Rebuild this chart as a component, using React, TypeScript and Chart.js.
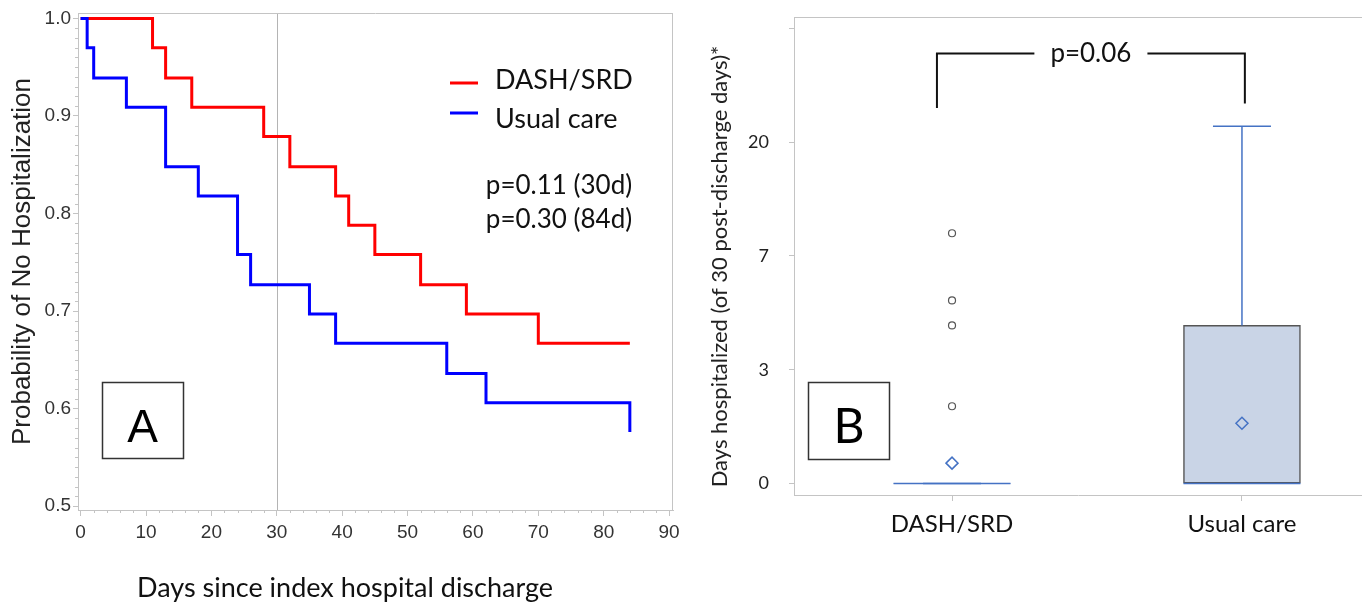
import React, { useEffect, useRef } from 'react';
import { Chart, registerables } from 'chart.js';

Chart.register(...registerables);

// ---------------- Panel A: Kaplan-Meier data ----------------
const seriesNames = ['DASH/SRD', 'Usual care'];
const dashTimes = [0, 11, 13, 17, 28, 32, 39, 41, 45, 52, 59, 70, 84];
const dashSurvival = [1.0, 0.970, 0.939, 0.909, 0.879, 0.848, 0.818, 0.788, 0.758, 0.727, 0.697, 0.667, 0.667];
const usualTimes = [0, 1, 2, 7, 13, 18, 24, 26, 35, 39, 56, 62, 84];
const usualSurvival = [1.0, 0.970, 0.939, 0.909, 0.848, 0.818, 0.758, 0.727, 0.697, 0.667, 0.636, 0.606, 0.576];
const xTicksA = [0, 10, 20, 30, 40, 50, 60, 70, 80, 90];
const yTicksA = [0.5, 0.6, 0.7, 0.8, 0.9, 1.0];
const refDay = 30;
const pTextsA = ['p=0.11 (30d)', 'p=0.30 (84d)'];
const panelLabelA = 'A';
const xTitleA = 'Days since index hospital discharge';
const yTitleA = 'Probability of No Hospitalization';

// ---------------- Panel B: box plot data (axis units) ----------------
const groups = ['DASH/SRD', 'Usual care'];
const yTickPositionsB = [0, 1, 2, 3, 4];
const yTickLabelsB = ['0', '3', '7', '20', ''];
const q1B = [0, 0];
const medianB = [0, 0];
const q3B = [0, 1.39];
const whiskerHighB = [0, 3.14];
const meanB = [0.18, 0.53];
const outliersB = [[2.2, 1.61, 1.39, 0.68], []];
const pTextB = 'p=0.06';
const panelLabelB = 'B';
const yTitleB = 'Days hospitalized (of 30 post-discharge days)*';

// ---------------- styles ----------------
const AXIS = '#c4c4c4';
const FONT_A = "'Liberation Sans', Arial, sans-serif";
const FONT_C = "Lato, 'Open Sans', sans-serif";
const RED = '#ff0000';
const BLUE = '#0000ff';
const BOXBLUE = '#4472c4';

Chart.defaults.font.family = FONT_C;

function fixScale(size: number) {
  return (s: any) => {
    if (s.isHorizontal()) s.height = size;
    else s.width = size;
    s.paddingLeft = 0;
    s.paddingRight = 0;
    s.paddingTop = 0;
    s.paddingBottom = 0;
  };
}

function line(ctx: CanvasRenderingContext2D, x1: number, y1: number, x2: number, y2: number) {
  ctx.beginPath();
  ctx.moveTo(x1, y1);
  ctx.lineTo(x2, y2);
  ctx.stroke();
}

const panelAPlugin = {
  id: 'panelA',
  beforeDatasetsDraw(chart: any) {
    const { ctx, chartArea: ca, scales } = chart;
    const px = Math.round(scales.x.getPixelForValue(refDay)) + 0.5;
    ctx.save();
    ctx.strokeStyle = '#b4b4b4';
    ctx.lineWidth = 1;
    line(ctx, px, ca.top, px, ca.bottom);
    ctx.restore();
  },
  afterDraw(chart: any) {
    const { ctx, chartArea: ca, scales } = chart;
    const x = scales.x;
    const y = scales.y;
    ctx.save();
    // frame (top/right)
    ctx.strokeStyle = AXIS;
    ctx.lineWidth = 1;
    const t = Math.round(ca.top) + 0.5;
    const r = Math.round(ca.right) - 0.5;
    line(ctx, ca.left, t, ca.right, t);
    line(ctx, r, ca.top, r, ca.bottom);
    // minor ticks
    for (let v = 0; v <= 90; v += 2) {
      if (v % 10 === 0) continue;
      const p = Math.round(x.getPixelForValue(v)) + 0.5;
      line(ctx, p, ca.bottom, p, ca.bottom + 3);
    }
    for (let k = 50; k <= 100; k++) {
      if (k % 10 === 0) continue;
      const p = Math.round(y.getPixelForValue(k / 100)) + 0.5;
      line(ctx, ca.left - 3, p, ca.left, p);
    }
    // legend
    const ds = chart.data.datasets;
    const legendRows = [
      { lineY: 83, baseY: 89 },
      { lineY: 113, baseY: 128 },
    ];
    ds.forEach((d: any, i: number) => {
      const row = legendRows[i];
      ctx.strokeStyle = d.borderColor;
      ctx.lineWidth = 3;
      line(ctx, 450, row.lineY, 478, row.lineY);
      ctx.fillStyle = '#111';
      ctx.font = `27px ${FONT_C}`;
      ctx.textAlign = 'left';
      ctx.textBaseline = 'alphabetic';
      ctx.fillText(d.label, 495, row.baseY);
    });
    // p-values
    ctx.font = `26px ${FONT_C}`;
    ctx.textAlign = 'center';
    ctx.fillText(pTextsA[0], 559, 194);
    ctx.fillText(pTextsA[1], 559, 228);
    // panel label box
    ctx.strokeStyle = '#333';
    ctx.lineWidth = 1.5;
    ctx.strokeRect(102.5, 382.5, 81, 76);
    ctx.fillStyle = '#000';
    ctx.font = `46px ${FONT_A}`;
    ctx.textAlign = 'center';
    ctx.fillText(panelLabelA, 142.5, 442);
    // x title
    ctx.fillStyle = '#111';
    ctx.font = `27px ${FONT_C}`;
    ctx.fillText(xTitleA, chart.width / 2, 597);
    ctx.restore();
  },
};

const bracketB = { x1: 0.948, x2: 2.01, top: 3.78, leftEnd: 3.3, rightEnd: 3.34 };

const panelBPlugin = {
  id: 'panelB',
  afterDraw(chart: any) {
    const { ctx, chartArea: ca, scales } = chart;
    const x = scales.x;
    const y = scales.y;
    ctx.save();
    ctx.strokeStyle = AXIS;
    ctx.lineWidth = 1;
    const t = Math.round(ca.top) + 0.5;
    line(ctx, ca.left, t, ca.right, t);
    // bracket
    const xl = x.getPixelForValue(bracketB.x1);
    const xr = x.getPixelForValue(bracketB.x2);
    const yt = y.getPixelForValue(bracketB.top);
    const yl = y.getPixelForValue(bracketB.leftEnd);
    const yr = y.getPixelForValue(bracketB.rightEnd);
    ctx.font = `26px ${FONT_C}`;
    const tw = ctx.measureText(pTextB).width;
    const cx = (xl + xr) / 2;
    const gap = 16;
    ctx.strokeStyle = '#111';
    ctx.lineWidth = 2;
    ctx.beginPath();
    ctx.moveTo(xl, yl);
    ctx.lineTo(xl, yt);
    ctx.lineTo(cx - tw / 2 - gap, yt);
    ctx.moveTo(cx + tw / 2 + gap, yt);
    ctx.lineTo(xr, yt);
    ctx.lineTo(xr, yr);
    ctx.stroke();
    ctx.fillStyle = '#111';
    ctx.textAlign = 'center';
    ctx.textBaseline = 'alphabetic';
    ctx.fillText(pTextB, cx, yt + 9);
    // panel label
    ctx.strokeStyle = '#333';
    ctx.lineWidth = 1.5;
    ctx.strokeRect(118.5, 382.5, 81, 77);
    ctx.fillStyle = '#000';
    ctx.font = `48px ${FONT_C}`;
    ctx.fillText(panelLabelB, 159, 443);
    // y title
    ctx.save();
    ctx.translate(30, 266.5);
    ctx.rotate(-Math.PI / 2);
    ctx.fillStyle = '#222';
    ctx.font = `22px ${FONT_C}`;
    ctx.textAlign = 'center';
    ctx.textBaseline = 'middle';
    ctx.fillText(yTitleB, 0, 0);
    ctx.restore();
    ctx.restore();
  },
};

export default function App() {
  const refA = useRef<HTMLCanvasElement>(null);
  const refB = useRef<HTMLCanvasElement>(null);

  useEffect(() => {
    const chartA = new Chart(refA.current as HTMLCanvasElement, {
      type: 'line',
      data: {
        datasets: [
          {
            label: seriesNames[0],
            data: dashTimes.map((t, i) => ({ x: t, y: dashSurvival[i] })),
            borderColor: RED,
            backgroundColor: RED,
            borderWidth: 3,
            stepped: 'before',
            pointRadius: 0,
            fill: false,
            borderJoinStyle: 'miter',
            order: 1,
          },
          {
            label: seriesNames[1],
            data: usualTimes.map((t, i) => ({ x: t, y: usualSurvival[i] })),
            borderColor: BLUE,
            backgroundColor: BLUE,
            borderWidth: 3,
            stepped: 'before',
            pointRadius: 0,
            fill: false,
            borderJoinStyle: 'miter',
            order: 0,
          },
        ],
      } as any,
      options: {
        responsive: true,
        maintainAspectRatio: false,
        animation: false,
        events: [],
        layout: { autoPadding: false, padding: { top: 13, right: 17, bottom: 0, left: 0 } },
        plugins: { legend: { display: false }, tooltip: { enabled: false } },
        scales: {
          x: {
            type: 'linear',
            min: -0.4,
            max: 90.6,
            afterBuildTicks: (s: any) => {
              s.ticks = xTicksA.map((v) => ({ value: v }));
            },
            afterFit: fixScale(98),
            grid: { drawOnChartArea: false, drawTicks: true, tickLength: 6, color: AXIS },
            border: { color: AXIS },
            ticks: {
              font: { family: FONT_A, size: 19 },
              color: '#333',
              padding: 5,
              maxRotation: 0,
              autoSkip: false,
              callback: (v: any) => String(v),
            },
          },
          y: {
            type: 'linear',
            min: 0.496,
            max: 1.0056,
            afterBuildTicks: (s: any) => {
              s.ticks = yTicksA.map((v) => ({ value: v }));
            },
            afterFit: fixScale(78),
            grid: { drawOnChartArea: false, drawTicks: true, tickLength: 5, color: AXIS },
            border: { color: AXIS },
            ticks: {
              font: { family: FONT_A, size: 19 },
              color: '#333',
              padding: 2,
              autoSkip: false,
              callback: (v: any) => Number(v).toFixed(1),
            },
            title: {
              display: true,
              text: yTitleA,
              font: { family: FONT_A, size: 26 },
              color: '#222',
              padding: { top: 7, bottom: 0 },
            },
          },
        },
      } as any,
      plugins: [panelAPlugin],
    });

    const chartB = new Chart(refB.current as HTMLCanvasElement, {
      type: 'bar',
      data: {
        datasets: [
          {
            type: 'bar',
            data: groups.map((_, i) => ({ x: i + 1, y: [q1B[i], q3B[i]] })),
            backgroundColor: '#c9d4e6',
            borderColor: '#555555',
            borderWidth: groups.map((_, i) => (q3B[i] > q1B[i] ? 1.5 : 0)),
            borderSkipped: false,
            barThickness: 117,
            order: 10,
          },
          ...groups.map((_, i) => ({
            type: 'line',
            data: [
              { x: i + 1, y: q3B[i] },
              { x: i + 1, y: whiskerHighB[i] },
            ],
            borderColor: BOXBLUE,
            borderWidth: 1.5,
            pointRadius: 0,
            fill: false,
            order: 8,
          })),
          {
            type: 'scatter',
            data: groups.map((_, i) => ({ x: i + 1, y: whiskerHighB[i] })),
            pointStyle: 'line',
            pointRadius: 29,
            pointBorderColor: BOXBLUE,
            pointBorderWidth: 1.5,
            order: 6,
          },
          {
            type: 'scatter',
            data: groups.map((_, i) => ({ x: i + 1, y: medianB[i] })),
            pointStyle: 'line',
            pointRadius: 58.5,
            pointBorderColor: BOXBLUE,
            pointBorderWidth: 1.5,
            order: 5,
          },
          {
            type: 'scatter',
            data: groups.map((_, i) => ({ x: i + 1, y: meanB[i] })),
            pointStyle: 'rectRot',
            pointRadius: 6,
            pointBorderColor: BOXBLUE,
            pointBackgroundColor: 'rgba(0,0,0,0)',
            pointBorderWidth: 1.5,
            order: 2,
          },
          {
            type: 'scatter',
            data: outliersB.flatMap((vals, gi) => vals.map((v) => ({ x: gi + 1, y: v }))),
            pointStyle: 'circle',
            pointRadius: 3.5,
            pointBorderColor: '#555555',
            pointBackgroundColor: 'rgba(0,0,0,0)',
            pointBorderWidth: 1.2,
            order: 1,
          },
        ],
      } as any,
      options: {
        responsive: true,
        maintainAspectRatio: false,
        animation: false,
        events: [],
        layout: { autoPadding: false, padding: { top: 17, right: 0, bottom: 0, left: 0 } },
        plugins: { legend: { display: false }, tooltip: { enabled: false } },
        scales: {
          x: {
            type: 'linear',
            min: 0.455,
            max: 2.414,
            offset: false,
            afterBuildTicks: (s: any) => {
              s.ticks = groups.map((_, i) => ({ value: i + 1 }));
            },
            afterFit: fixScale(113),
            grid: { drawOnChartArea: false, drawTicks: true, tickLength: 6, color: AXIS, offset: false },
            border: { color: AXIS },
            ticks: {
              font: { family: FONT_C, size: 24 },
              color: '#111',
              padding: 9,
              maxRotation: 0,
              autoSkip: false,
              callback: (v: any) => groups[Math.round(Number(v)) - 1],
            },
          },
          y: {
            type: 'linear',
            min: -0.1,
            max: 4.1,
            beginAtZero: false,
            afterBuildTicks: (s: any) => {
              s.ticks = yTickPositionsB.map((v) => ({ value: v }));
            },
            afterFit: fixScale(104),
            grid: { drawOnChartArea: false, drawTicks: true, tickLength: 5, color: AXIS },
            border: { color: AXIS },
            ticks: {
              font: { family: FONT_C, size: 18 },
              color: '#222',
              padding: 20,
              autoSkip: false,
              callback: (v: any) => yTickLabelsB[yTickPositionsB.indexOf(Number(v))] ?? '',
            },
          },
        },
      } as any,
      plugins: [panelBPlugin],
    });

    return () => {
      chartA.destroy();
      chartB.destroy();
    };
  }, []);

  return (
    <div
      style={{
        position: 'absolute',
        left: 0,
        top: 0,
        width: 1362,
        height: 608,
        background: '#ffffff',
        overflow: 'hidden',
      }}
    >
      <div style={{ position: 'absolute', left: 0, top: 0, width: 690, height: 608 }}>
        <canvas ref={refA} />
      </div>
      <div style={{ position: 'absolute', left: 690, top: 0, width: 672, height: 608 }}>
        <canvas ref={refB} />
      </div>
    </div>
  );
}
